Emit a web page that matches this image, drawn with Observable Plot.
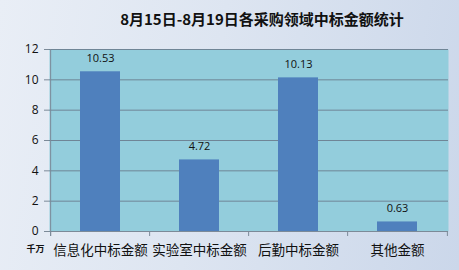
<!DOCTYPE html>
<html>
<head>
<meta charset="utf-8">
<script src="https://cdn.jsdelivr.net/npm/d3@7"></script>
<script src="https://cdn.jsdelivr.net/npm/@observablehq/plot@0.6"></script>
<style>
  html, body { margin: 0; padding: 0; }
  body { width: 459px; height: 270px; overflow: hidden;
         background: linear-gradient(100deg, #e9eef6 0%, #dde5f1 45%, #cbd7ea 100%); }
  #chart svg { display: block; background: transparent; }
</style>
</head>
<body>
<div id="chart"></div>
<script>
// 8月15日-8月19日 各采购领域中标金额（千万）
const title = "8月15日-8月19日各采购领域中标金额统计";
const unitLabel = "千万";
const categories = ["信息化中标金额", "实验室中标金额", "后勤中标金额", "其他金额"];
const amounts = [10.53, 4.72, 10.13, 0.63];
const yTicks = [0, 2, 4, 6, 8, 10, 12];

const data = categories.map((c, i) => ({category: c, amount: amounts[i]}));

const W = 459, H = 270;
const margin = {top: 49, right: 11, bottom: 39, left: 49};
const bandW = (W - margin.left - margin.right) / categories.length;
const cjk = "'Noto Sans CJK SC', sans-serif";
const num = "'Open Sans', 'DejaVu Sans', sans-serif";
const axisGrey = "#7c8a98";

const chart = Plot.plot({
  width: W,
  height: H,
  marginTop: margin.top,
  marginRight: margin.right,
  marginBottom: margin.bottom,
  marginLeft: margin.left,
  style: {background: "transparent", fontFamily: num},
  x: {domain: categories, paddingInner: 0.6, paddingOuter: 0.3, axis: null},
  y: {domain: [0, 12], axis: null},
  marks: [
    Plot.frame({fill: "#93cddc", stroke: null}),
    Plot.gridY(yTicks, {stroke: "#6f8596", strokeOpacity: 1, strokeWidth: 1}),
    Plot.axisY(yTicks, {tickSize: 5, stroke: axisGrey, tickPadding: 6, label: null,
      fontSize: 12, fill: "#111", fontFamily: num}),
    Plot.ruleX([categories[0]], {x: d => d, dx: -bandW / 2, y1: -0.33, y2: 12, stroke: axisGrey}),
    Plot.ruleY([0], {stroke: axisGrey}),
    Plot.ruleX(categories, {x: d => d, dx: -bandW / 2, y1: 0, y2: -0.33, stroke: axisGrey}),
    Plot.ruleX([categories[categories.length - 1]], {x: d => d, dx: bandW / 2, y1: 0, y2: -0.33, stroke: axisGrey}),
    Plot.barY(data, {x: "category", y: "amount", fill: "#4f80bd"}),
    Plot.text(data, {x: "category", y: "amount", text: d => d.amount.toFixed(2),
      dy: -13, fontSize: 11, fill: "#111", fontFamily: num}),
    Plot.text(categories, {x: d => d, y: 0, dy: 19, text: d => d,
      fontSize: 13.5, fill: "#111", fontFamily: cjk}),
    Plot.text([unitLabel], {frameAnchor: "bottom-left", textAnchor: "middle", dx: -14, dy: 20, text: d => d,
      fontSize: 9, fontWeight: "bold", fill: "#111", fontFamily: cjk}),
    Plot.text([title], {frameAnchor: "top", dx: 13, dy: -35, text: d => d,
      fontSize: 15, fontWeight: "bold", fill: "#111", fontFamily: cjk})
  ]
});
document.getElementById("chart").appendChild(chart);
</script>
</body>
</html>
